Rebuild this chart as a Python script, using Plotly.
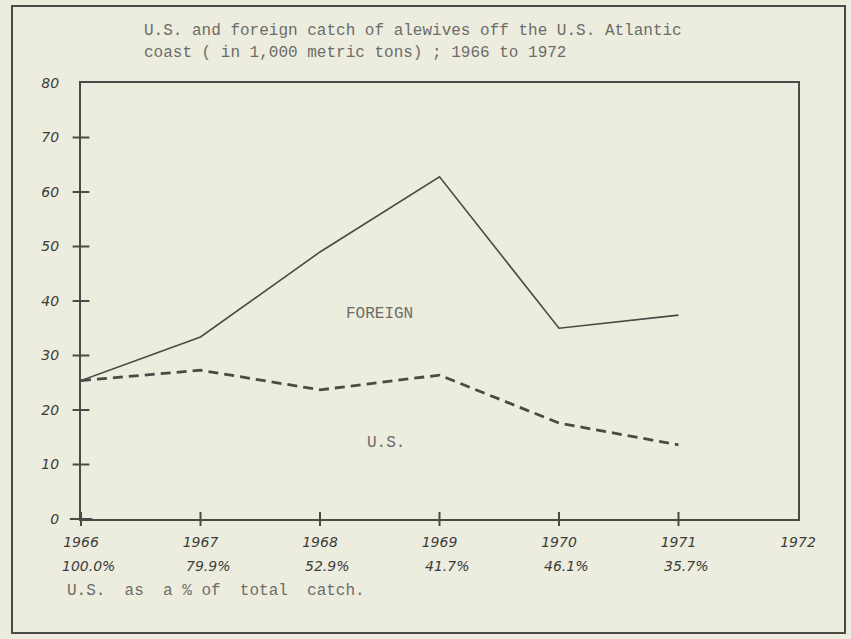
import plotly.graph_objects as go

years = [1966, 1967, 1968, 1969, 1970, 1971]
total_catch = [25.4, 33.4, 49.0, 62.8, 35.0, 37.4]
us_catch = [25.4, 27.3, 23.7, 26.4, 17.6, 13.6]
us_pct_labels = ["100.0%", "79.9%", "52.9%", "41.7%", "46.1%", "35.7%"]
x_tick_vals = [1966, 1967, 1968, 1969, 1970, 1971, 1972]
x_tick_text = ["1966", "1967", "1968", "1969", "1970", "1971", "1972"]
y_tick_vals = [0, 10, 20, 30, 40, 50, 60, 70, 80]
title_lines = ["U.S. and foreign catch of alewives off the U.S. Atlantic",
               "coast ( in 1,000 metric tons) ; 1966 to 1972"]
footnote = "U.S.  as  a % of  total  catch."

INK = "#4a4a47"
TYPE = "#6c6c68"
HANDINK = "#3c3c3a"
PAPER = "#ecedde"
MONO = "Liberation Mono, DejaVu Sans Mono, monospace"
HAND = "DejaVu Sans, sans-serif"

W, H = 851, 639
ml, mr, mt, mb = 81, 53, 83, 120


def px_x(px):
    return (px - ml) / (W - ml - mr)


def px_y(py):
    return (H - mb - py) / (H - mt - mb)


fig = go.Figure()
fig.add_trace(go.Scatter(x=years, y=total_catch, mode="lines",
                         line=dict(color=INK, width=1.6), showlegend=False, hoverinfo="skip"))
fig.add_trace(go.Scatter(x=years, y=us_catch, mode="lines",
                         line=dict(color=INK, width=2.8, dash="10px,6px"), showlegend=False, hoverinfo="skip"))
# crossing tick marks on y axis
fig.add_trace(go.Scatter(x=[1966] * (len(y_tick_vals) - 2), y=y_tick_vals[1:-1], mode="markers",
                         marker=dict(symbol="line-ew", size=12, line=dict(color=INK, width=2)),
                         cliponaxis=False, showlegend=False, hoverinfo="skip"))
# crossing tick marks on x axis (including origin cross)
fig.add_trace(go.Scatter(x=x_tick_vals[:-1], y=[0] * (len(x_tick_vals) - 1), mode="markers",
                         marker=dict(symbol="line-ns", size=10, line=dict(color=INK, width=2)),
                         cliponaxis=False, showlegend=False, hoverinfo="skip"))
fig.add_trace(go.Scatter(x=[1966], y=[0], mode="markers",
                         marker=dict(symbol="line-ew", size=16, line=dict(color=INK, width=2)),
                         cliponaxis=False, showlegend=False, hoverinfo="skip"))

fig.add_annotation(x=1968.5, y=37.7, text="FOREIGN", showarrow=False,
                   font=dict(family=MONO, size=16, color=TYPE))
fig.add_annotation(x=1968.55, y=13.9, text="U.S.", showarrow=False,
                   font=dict(family=MONO, size=16, color=TYPE))

for yr, lab in zip(years, us_pct_labels):
    fig.add_annotation(x=yr + 0.06, y=px_y(566), xref="x", yref="paper", text=lab, showarrow=False,
                       yanchor="middle",
                       font=dict(family=HAND, size=14, color=HANDINK, style="italic"))

fig.add_annotation(x=px_x(65), y=px_y(591), xref="paper", yref="paper", text=footnote,
                   showarrow=False, xanchor="left", yanchor="middle",
                   font=dict(family=MONO, size=16, color=TYPE))

for i, line in enumerate(title_lines):
    fig.add_annotation(x=px_x(142), y=px_y(31 + 22 * i), xref="paper", yref="paper", text=line,
                       showarrow=False, xanchor="left", yanchor="middle",
                       font=dict(family=MONO, size=16, color=TYPE))

fig.update_layout(
    width=W, height=H,
    margin=dict(l=ml, r=mr, t=mt, b=mb),
    paper_bgcolor=PAPER, plot_bgcolor=PAPER,
    xaxis=dict(range=[1966, 1972], tickvals=x_tick_vals, ticktext=x_tick_text,
               showgrid=False, zeroline=False, showline=True, linecolor=INK, linewidth=2,
               mirror=True, ticks="", ticklabelstandoff=9,
               tickfont=dict(family=HAND, size=14, color=HANDINK, style="italic")),
    yaxis=dict(range=[0, 80], tickvals=y_tick_vals, showgrid=False, zeroline=False,
               showline=True, linecolor=INK, linewidth=2, mirror=True, ticks="",
               ticklabelstandoff=17,
               tickfont=dict(family=HAND, size=14, color=HANDINK, style="italic")),
    shapes=[dict(type="rect", xref="paper", yref="paper",
                 x0=px_x(12), x1=px_x(845), y0=px_y(633), y1=px_y(6),
                 line=dict(color=INK, width=2))],
)

fig.write_html("out.html", config={"displayModeBar": False},
               post_script="document.body.style.margin='0';document.body.style.background='%s';" % PAPER)
